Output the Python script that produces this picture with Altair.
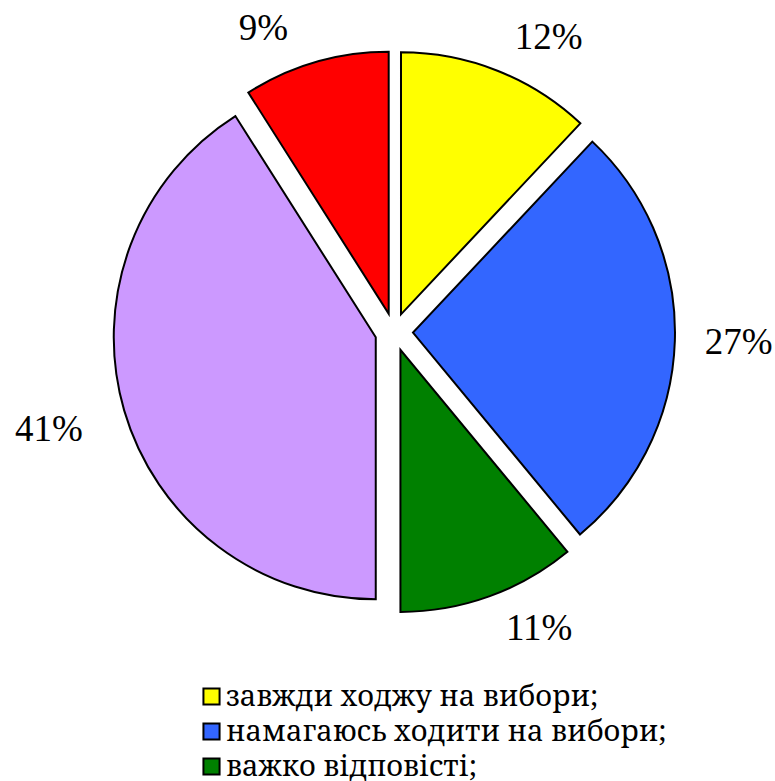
import altair as alt
import pandas as pd

categories = [
    "завжди ходжу на вибори;",
    "намагаюсь ходити на вибори;",
    "важко відповісті;",
    "ходжу на вибори іноді;",
    "не ходжу на вибори;",
]
percents = [12, 27, 11, 41, 9]
colors = ["#FFFF00", "#3366FF", "#008000", "#CC99FF", "#FF0000"]

df = pd.DataFrame({"cat": categories, "pct": percents, "order": list(range(len(categories)))})

CX, CY = 394, 332      # pie centre (pixels)
R = 262                # pie radius
EXPLODE = 19           # slice explosion distance
GAP = 20               # label gap outside the arc
NUM_FONT = "Liberation Serif"
TXT_FONT = "Noto Serif"

base = (
    alt.Chart(df)
    .transform_window(cum="sum(pct)", sort=[alt.SortField("order")], frame=[None, 0])
    .transform_calculate(a0="(datum.cum - datum.pct) / 100 * 2 * PI")
    .transform_calculate(a1="datum.cum / 100 * 2 * PI")
    .transform_calculate(mid="(datum.a0 + datum.a1) / 2")
    .transform_calculate(px=f"{CX} + {EXPLODE} * sin(datum.mid)")
    .transform_calculate(py=f"{CY} - {EXPLODE} * cos(datum.mid)")
    .transform_calculate(lx=f"{CX} + {EXPLODE + R + GAP} * sin(datum.mid)")
    .transform_calculate(
        ly=f"{CY} - {EXPLODE + R + GAP} * cos(datum.mid) - 14 * clamp(4 * cos(datum.mid), -1, 1)"
    )
    .transform_calculate(label="datum.pct + '%'")
)

arcs = base.mark_arc(outerRadius=R, stroke="black", strokeWidth=2).encode(
    theta=alt.Theta("a0:Q", scale=None),
    theta2="a1:Q",
    x=alt.X("px:Q", scale=None, axis=None),
    y=alt.Y("py:Q", scale=None, axis=None),
    color=alt.Color(
        "cat:N",
        scale=alt.Scale(domain=categories, range=colors),
        sort=categories,
        legend=alt.Legend(
            title=None,
            orient="none",
            legendX=197,
            legendY=682,
            values=categories[:3],
            symbolType="square",
            symbolSize=260,
            symbolStrokeColor="black",
            symbolStrokeWidth=2,
            symbolOpacity=1,
            labelFont=TXT_FONT,
            labelFontSize=29,
            labelColor="black",
            labelLimit=700,
            labelOffset=0,
            rowPadding=5,
            padding=0,
        ),
    ),
)

text_right = base.transform_filter("sin(datum.mid) >= 0").mark_text(
    font=NUM_FONT, fontSize=37, color="black", align="left", baseline="middle", dx=10
).encode(
    x=alt.X("lx:Q", scale=None, axis=None),
    y=alt.Y("ly:Q", scale=None, axis=None),
    text="label:N",
)
text_left = base.transform_filter("sin(datum.mid) < 0").mark_text(
    font=NUM_FONT, fontSize=37, color="black", align="right", baseline="middle", dx=-22
).encode(
    x=alt.X("lx:Q", scale=None, axis=None),
    y=alt.Y("ly:Q", scale=None, axis=None),
    text="label:N",
)

chart = (
    alt.layer(arcs, text_right, text_left)
    .properties(width=775, height=781, padding=0, autosize=alt.AutoSizeParams(type="none"))
    .configure_view(stroke=None)
)

chart.save("out.html", embed_options={"renderer": "svg", "actions": False})
